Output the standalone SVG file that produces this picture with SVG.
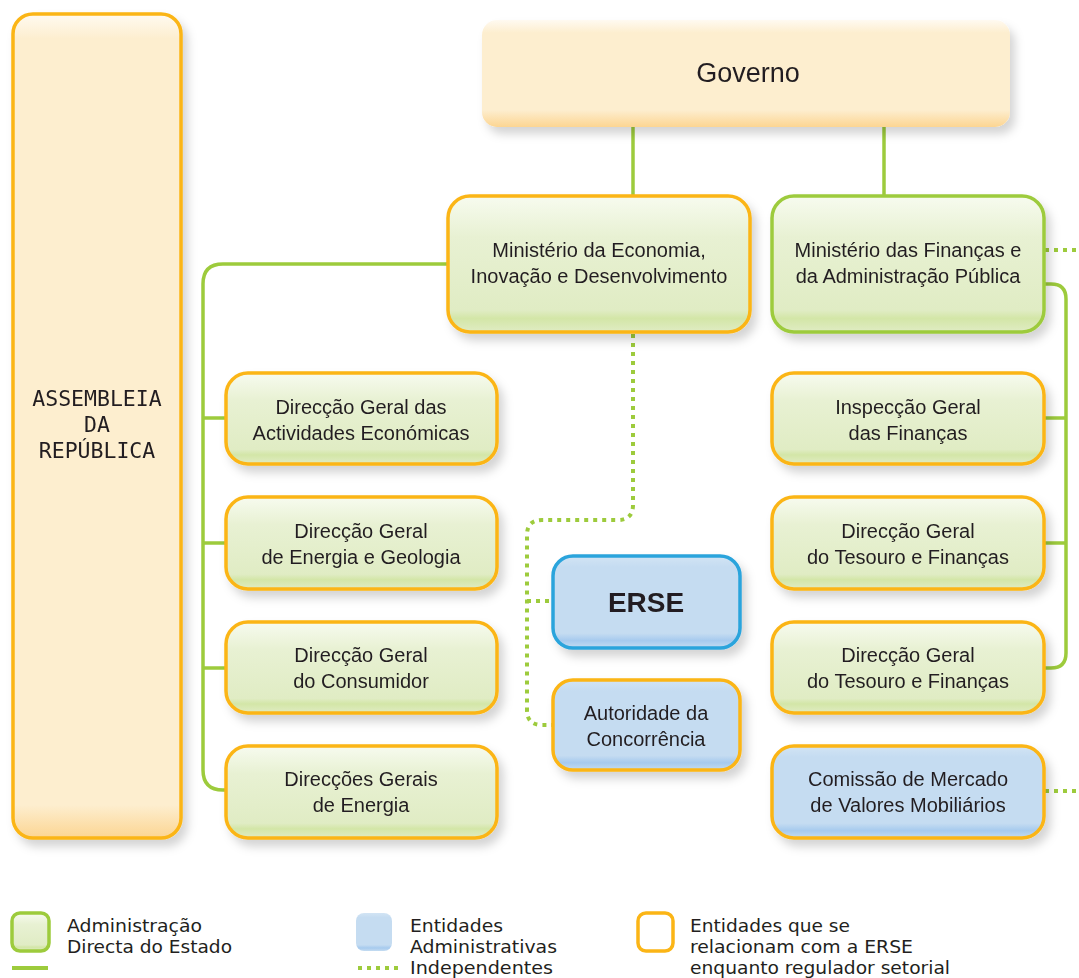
<svg xmlns="http://www.w3.org/2000/svg" width="1079" height="978" viewBox="0 0 1079 978">
<defs>
<linearGradient id="gGreen" x1="0" y1="0" x2="0" y2="1">
<stop offset="0" stop-color="#f7fbef"/><stop offset="0.3" stop-color="#e8f1d3"/><stop offset="0.84" stop-color="#e0ecc4"/><stop offset="0.9" stop-color="#d3e6a7"/><stop offset="1" stop-color="#e0ecc4"/>
</linearGradient>
<linearGradient id="gBlue" x1="0" y1="0" x2="0" y2="1">
<stop offset="0" stop-color="#d2e4f4"/><stop offset="0.12" stop-color="#c5dcf1"/><stop offset="0.84" stop-color="#c5dcf1"/><stop offset="0.92" stop-color="#a6caee"/><stop offset="1" stop-color="#c5dcf1"/>
</linearGradient>
<linearGradient id="gCream" x1="0" y1="0" x2="0" y2="1">
<stop offset="0" stop-color="#fffaf1"/><stop offset="0.12" stop-color="#fdeecf"/><stop offset="0.84" stop-color="#fdeecf"/><stop offset="1" stop-color="#fcd592"/>
</linearGradient>
<linearGradient id="gCreamTall" x1="0" y1="0" x2="0" y2="1">
<stop offset="0" stop-color="#fffaf1"/><stop offset="0.03" stop-color="#fdeecf"/><stop offset="0.96" stop-color="#fdeecf"/><stop offset="1" stop-color="#fcd592"/>
</linearGradient>
<filter id="sh" x="-10%" y="-10%" width="130%" height="140%">
<feDropShadow dx="5" dy="7" stdDeviation="5" flood-color="#000" flood-opacity="0.17"/>
</filter>
</defs>
<style>
.t{font-family:"Liberation Sans",Arial,sans-serif;font-size:20px;fill:#231f20;text-anchor:middle}
.lg{font-family:"DejaVu Sans Condensed","Liberation Sans",sans-serif;font-size:17px;fill:#231f20}
.mono{font-family:"DejaVu Sans Mono","Liberation Mono",monospace;font-size:21.5px;fill:#231f20;text-anchor:middle}
.green{fill:url(#gGreen);stroke:#9dcb3c;stroke-width:3.5}
.orangeG{fill:url(#gGreen);stroke:#fbb516;stroke-width:3.5}
.orangeB{fill:url(#gBlue);stroke:#fbb516;stroke-width:3.5}
.line{fill:none;stroke:#9dcb3c;stroke-width:3.5}
.dot{fill:none;stroke:#9dcb3c;stroke-width:4;stroke-dasharray:4 5}
</style>

<g id="connectors">
<path class="line" d="M633,127 V196"/>
<path class="line" d="M884,127 V196"/>
<path class="line" d="M447,264 H223 Q203,264 203,284 V770 Q203,790 223,790 H226"/>
<path class="line" d="M203,418 H226"/>
<path class="line" d="M203,543 H226"/>
<path class="line" d="M203,668 H226"/>
<path class="line" d="M1044,284 H1051 Q1066,284 1066,299 V653 Q1066,668 1051,668 H1044"/>
<path class="line" d="M1044,418 H1066"/>
<path class="line" d="M1044,543 H1066"/>
<path class="dot" d="M633,334 V505 Q633,520 618,520 H542 Q527,520 527,535 V710 Q527,725 542,725 H553"/>
<path class="dot" d="M527,601 H553"/>
<path class="dot" d="M1045,250 H1079"/>
<path class="dot" d="M1045,791 H1079"/>
</g>

<g id="assembleia" filter="url(#sh)">
<rect x="13" y="14" width="168" height="824" rx="20" fill="url(#gCreamTall)" stroke="#fbb516" stroke-width="3.5"/>
<text class="mono" x="97" y="406">ASSEMBLEIA</text>
<text class="mono" x="97" y="432">DA</text>
<text class="mono" x="97" y="458">REPÚBLICA</text>
</g>

<g id="governo" filter="url(#sh)">
<rect x="482" y="20" width="528" height="107" rx="15" fill="url(#gCream)"/>
<text class="t" x="748" y="82" style="font-size:27px">Governo</text>
</g>

<g id="min-economia" filter="url(#sh)">
<rect class="orangeG" x="448" y="196" width="302" height="136" rx="22"/>
<text class="t" x="599" y="257">Ministério da Economia,</text>
<text class="t" x="599" y="283">Inovação e Desenvolvimento</text>
</g>

<g id="min-financas" filter="url(#sh)">
<rect class="green" x="772" y="196" width="272" height="136" rx="22"/>
<text class="t" x="908" y="257">Ministério das Finanças e</text>
<text class="t" x="908" y="283">da Administração Pública</text>
</g>

<g id="dg-actividades" filter="url(#sh)">
<rect class="orangeG" x="226" y="373" width="271" height="91" rx="22"/>
<text class="t" x="361" y="414">Direcção Geral das</text>
<text class="t" x="361" y="440">Actividades Económicas</text>
</g>

<g id="dg-energia-geologia" filter="url(#sh)">
<rect class="orangeG" x="226" y="497" width="271" height="92" rx="22"/>
<text class="t" x="361" y="538">Direcção Geral</text>
<text class="t" x="361" y="564">de Energia e Geologia</text>
</g>

<g id="dg-consumidor" filter="url(#sh)">
<rect class="orangeG" x="226" y="622" width="271" height="91" rx="22"/>
<text class="t" x="361" y="662">Direcção Geral</text>
<text class="t" x="361" y="688">do Consumidor</text>
</g>

<g id="dg-energia" filter="url(#sh)">
<rect class="orangeG" x="226" y="746" width="271" height="92" rx="22"/>
<text class="t" x="361" y="786">Direcções Gerais</text>
<text class="t" x="361" y="812">de Energia</text>
</g>

<g id="erse" filter="url(#sh)">
<rect x="553" y="556" width="187" height="92" rx="20" fill="url(#gBlue)" stroke="#2ba4dc" stroke-width="3.5"/>
<text class="t" x="646" y="612" style="font-size:28px;font-weight:bold">ERSE</text>
</g>

<g id="autoridade" filter="url(#sh)">
<rect class="orangeB" x="553" y="680" width="187" height="90" rx="20"/>
<text class="t" x="646" y="720">Autoridade da</text>
<text class="t" x="646" y="746">Concorrência</text>
</g>

<g id="ig-financas" filter="url(#sh)">
<rect class="orangeG" x="772" y="373" width="272" height="91" rx="22"/>
<text class="t" x="908" y="414">Inspecção Geral</text>
<text class="t" x="908" y="440">das Finanças</text>
</g>

<g id="dg-tesouro-1" filter="url(#sh)">
<rect class="orangeG" x="772" y="497" width="272" height="92" rx="22"/>
<text class="t" x="908" y="538">Direcção Geral</text>
<text class="t" x="908" y="564">do Tesouro e Finanças</text>
</g>

<g id="dg-tesouro-2" filter="url(#sh)">
<rect class="orangeG" x="772" y="622" width="272" height="91" rx="22"/>
<text class="t" x="908" y="662">Direcção Geral</text>
<text class="t" x="908" y="688">do Tesouro e Finanças</text>
</g>

<g id="cmvm" filter="url(#sh)">
<rect class="orangeB" x="772" y="746" width="272" height="92" rx="22"/>
<text class="t" x="908" y="786">Comissão de Mercado</text>
<text class="t" x="908" y="812">de Valores Mobiliários</text>
</g>

<g id="legend">
<rect x="12" y="913" width="37" height="38" rx="8" fill="url(#gGreen)" stroke="#9dcb3c" stroke-width="3.5"/>
<text class="lg" x="67" y="932" textLength="135" lengthAdjust="spacingAndGlyphs">Administração</text>
<text class="lg" x="67" y="953" textLength="165" lengthAdjust="spacingAndGlyphs">Directa do Estado</text>
<path d="M12,968 H48" stroke="#9dcb3c" stroke-width="4"/>
<rect x="356" y="913" width="36" height="38" rx="8" fill="url(#gBlue)"/>
<text class="lg" x="410" y="932" textLength="93" lengthAdjust="spacingAndGlyphs">Entidades</text>
<text class="lg" x="410" y="953" textLength="147" lengthAdjust="spacingAndGlyphs">Administrativas</text>
<text class="lg" x="410" y="974" textLength="143" lengthAdjust="spacingAndGlyphs">Independentes</text>
<path d="M358,968 H398" stroke="#9dcb3c" stroke-width="4" stroke-dasharray="4 5"/>
<rect x="638" y="913" width="35" height="38" rx="8" fill="#fff" stroke="#fbb516" stroke-width="3.5"/>
<text class="lg" x="690" y="932" textLength="160" lengthAdjust="spacingAndGlyphs">Entidades que se</text>
<text class="lg" x="690" y="953" textLength="223" lengthAdjust="spacingAndGlyphs">relacionam com a ERSE</text>
<text class="lg" x="690" y="974" textLength="260" lengthAdjust="spacingAndGlyphs">enquanto regulador setorial</text>
</g>
</svg>
